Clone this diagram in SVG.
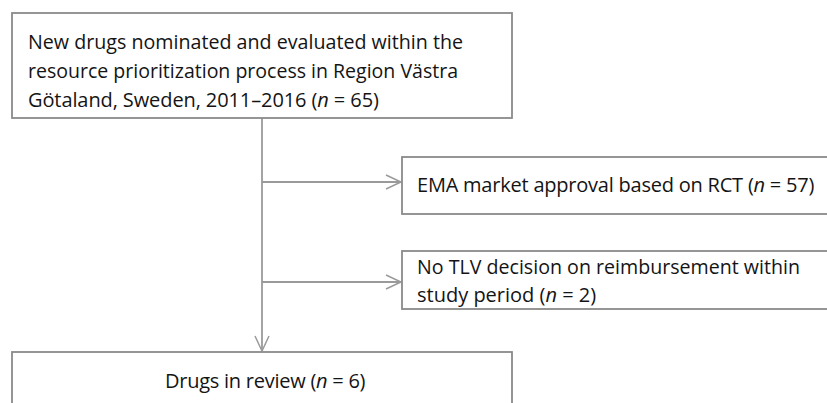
<svg xmlns="http://www.w3.org/2000/svg" width="827" height="403" viewBox="0 0 827 403">
<style>
.box{fill:#ffffff;stroke:#8a8a8a;stroke-width:1.8}
.lbl{font-family:"Open Sans","Liberation Sans",sans-serif;font-size:20px;fill:#141414}
.t1{letter-spacing:-0.1px}
.t2{letter-spacing:-0.22px}
.t3{letter-spacing:-0.25px}
.it{font-style:italic}
.con{fill:none;stroke:#9a9a9a;stroke-width:1.8}
</style>
<defs>
<marker id="arr" markerUnits="userSpaceOnUse" markerWidth="20" markerHeight="20" refX="16" refY="8" orient="auto" viewBox="0 0 20 16">
<path d="M1,1 L16,8 L1,15" fill="none" stroke="#9a9a9a" stroke-width="1.5"/>
</marker>
</defs>
<rect width="827" height="403" fill="#ffffff"/>
<g id="connectors">
<path class="con" d="M262,118 V351" marker-end="url(#arr)"/>
<path class="con" d="M262,182 H401" marker-end="url(#arr)"/>
<path class="con" d="M262,282 H401" marker-end="url(#arr)"/>
</g>
<g id="node-start">
<rect class="box" x="12" y="13" width="500" height="105"/>
<text class="lbl" x="28" y="49" textLength="435" lengthAdjust="spacingAndGlyphs">New drugs nominated and evaluated within the</text>
<text class="lbl" x="28" y="78" textLength="430" lengthAdjust="spacingAndGlyphs">resource prioritization process in Region Västra</text>
<text class="lbl t1" x="28" y="107">Götaland, Sweden, 2011–2016 (<tspan class="it">n</tspan> = 65)</text>
</g>
<g id="node-ema">
<rect class="box" x="402" y="157" width="440" height="57"/>
<text class="lbl t2" x="417" y="192">EMA market approval based on RCT (<tspan class="it">n</tspan> = 57)</text>
</g>
<g id="node-tlv">
<rect class="box" x="402" y="251" width="440" height="58"/>
<text class="lbl" x="417" y="274" textLength="383" lengthAdjust="spacingAndGlyphs">No TLV decision on reimbursement within</text>
<text class="lbl" x="417" y="302">study period (<tspan class="it">n</tspan> = 2)</text>
</g>
<g id="node-review">
<rect class="box" x="12" y="352" width="500" height="70"/>
<text class="lbl t3" x="165" y="388">Drugs in review (<tspan class="it">n</tspan> = 6)</text>
</g>
</svg>
